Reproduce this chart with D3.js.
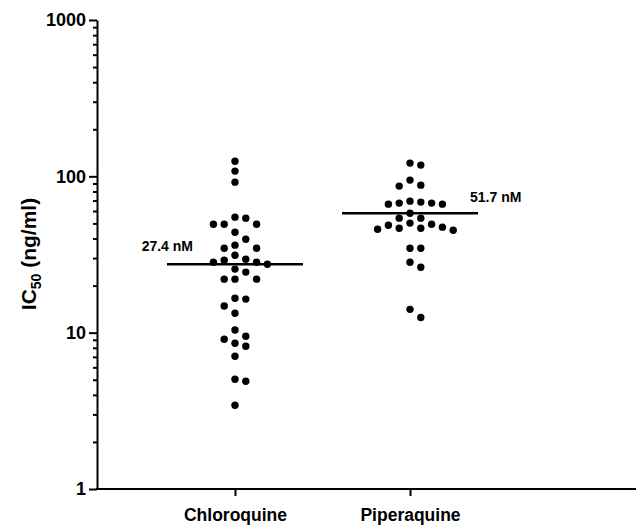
<!DOCTYPE html>
<html>
<head>
<meta charset="utf-8">
<script src="https://cdn.jsdelivr.net/npm/d3@7"></script>
<style>
  body { margin: 0; background: #fff; }
  svg { display: block; font-family: "Liberation Sans", Arial, sans-serif; font-weight: bold; }
</style>
</head>
<body>
<svg width="638" height="525"></svg>
<script>
// values (IC50, ng/ml)
var drugs = ['Chloroquine', 'Piperaquine']

var chloroquine = [125, 108, 91.8, 54.8, 54.0, 49.4, 49.4, 49.4, 43.9, 39.6,
  36.3, 34.7, 34.7, 31.3, 29.5, 29.1, 28.2, 28.2, 27.4, 25.5, 24.4, 22.0, 22.0,
  22.0, 16.6, 16.4, 14.8, 13.3, 10.4, 9.48, 9.07, 8.55, 8.18, 7.06, 5.03, 4.89, 3.43]

var piperaquine = [121.5, 118, 94.6, 87.8, 86.6, 69.4, 68.4, 67.4, 67.4, 66.4,
  66.4, 58.1, 54.0, 54.0, 50.2, 49.4, 48.7, 47.3, 46.6, 46.6, 45.9, 45.2, 34.7,
  34.7, 28.2, 26.2, 14.1, 12.5]

var medians = [27.4, 58]
var medianLabels = ['27.4 nM', '51.7 nM']

var majorTicks = [1, 10, 100, 1000]
var minorTicks = [2, 3, 4, 5, 6, 7, 8, 9, 20, 30, 40, 50, 60, 70, 80, 90,
  200, 300, 400, 500, 600, 700, 800, 900]

var svg = d3.select('svg')

// plot edges (window.top is taken, so own names)
var plotLeft = 97, plotRight = 636, plotTop = 20, plotBottom = 489

var yScale = d3.scaleLog()
               .domain([1, 1000])
               .range([plotBottom, plotTop])

var xScale = d3.scalePoint()
               .domain(drugs)
               .range([235, 410])

// swarm layout: dots go into columns 11px apart, first column with room wins
var colStep = 10.8, minGap = 9.8
var colOrder = [0, 1, -1, 2, -2, 3, -3, 4, -4]

function swarm(values, drug) {
  var placed = []
  values.slice().sort((a, b) => b - a).forEach(function (v) {
    var y = yScale(v)
    var best = 0, bestGap = -1
    for (var k of colOrder) {
      var gap = d3.min(placed.filter(p => p.k == k), p => Math.abs(p.y - y))
      if (gap === undefined) gap = Infinity
      if (gap >= minGap) { best = k; break }
      if (gap > bestGap) { bestGap = gap; best = k }
    }
    placed.push({ k: best, y: y, v: v, drug: drug })
  })
  return placed
}

var dots = swarm(chloroquine, drugs[0]).concat(swarm(piperaquine, drugs[1]))

svg.selectAll('.dot')
   .data(dots)
   .enter()
   .append('circle')
   .attr('class', 'dot')
   .attr('r', 3.7)
   .attr('fill', '#000')
   .attr('cx', d => xScale(d.drug) + d.k * colStep)
   .attr('cy', d => d.y)

// median lines
svg.selectAll('.median')
   .data(drugs)
   .enter()
   .append('line')
   .attr('class', 'median')
   .attr('x1', d => xScale(d) - 68)
   .attr('x2', d => xScale(d) + 68)
   .attr('y1', (d, i) => yScale(medians[i]))
   .attr('y2', (d, i) => yScale(medians[i]))
   .attr('stroke', '#000')
   .attr('stroke-width', 2.5)

svg.append('text')
   .attr('x', xScale(drugs[0]) - 42)
   .attr('y', yScale(medians[0]) - 13)
   .attr('text-anchor', 'end')
   .attr('font-size', 14)
   .text(medianLabels[0])

svg.append('text')
   .attr('x', xScale(drugs[1]) + 60)
   .attr('y', yScale(medians[1]) - 11)
   .attr('font-size', 14)
   .text(medianLabels[1])

// y axis
var yMinor = svg.append('g')
                .attr('transform', `translate(${plotLeft},0)`)
                .call(d3.axisLeft(yScale).tickValues(minorTicks).tickSize(4).tickFormat(''))
yMinor.select('.domain').remove()

var yMajor = svg.append('g')
                .attr('transform', `translate(${plotLeft},0)`)
                .call(d3.axisLeft(yScale).tickValues(majorTicks).tickSize(8).tickSizeOuter(0)
                        .tickPadding(3).tickFormat(d3.format('d')))
yMajor.select('.domain').attr('stroke-width', 2)
yMajor.selectAll('.tick text')
      .attr('font-size', 18)
      .attr('font-family', null)
      .attr('fill', '#000')
svg.selectAll('.tick line').attr('stroke-width', 2)

// x axis
svg.append('line')
   .attr('x1', plotLeft - 1)
   .attr('x2', plotRight)
   .attr('y1', plotBottom)
   .attr('y2', plotBottom)
   .attr('stroke', '#000')
   .attr('stroke-width', 2)

var xAxis = svg.append('g')
               .attr('transform', `translate(0,${plotBottom})`)
               .call(d3.axisBottom(xScale).tickSize(7).tickPadding(13))
xAxis.select('.domain').remove()
xAxis.selectAll('.tick line').attr('stroke-width', 2)
xAxis.selectAll('.tick text')
     .attr('font-size', 17.5)
     .attr('font-family', null)
     .attr('fill', '#000')

// y title with subscript
var title = svg.append('text')
               .attr('transform', 'translate(36,254) rotate(-90)')
               .attr('text-anchor', 'middle')
               .attr('font-size', 21)
title.append('tspan').text('IC')
title.append('tspan').attr('font-size', 14).attr('dy', 5).text('50')
title.append('tspan').attr('dy', -5).text(' (ng/ml)')
</script>
</body>
</html>
